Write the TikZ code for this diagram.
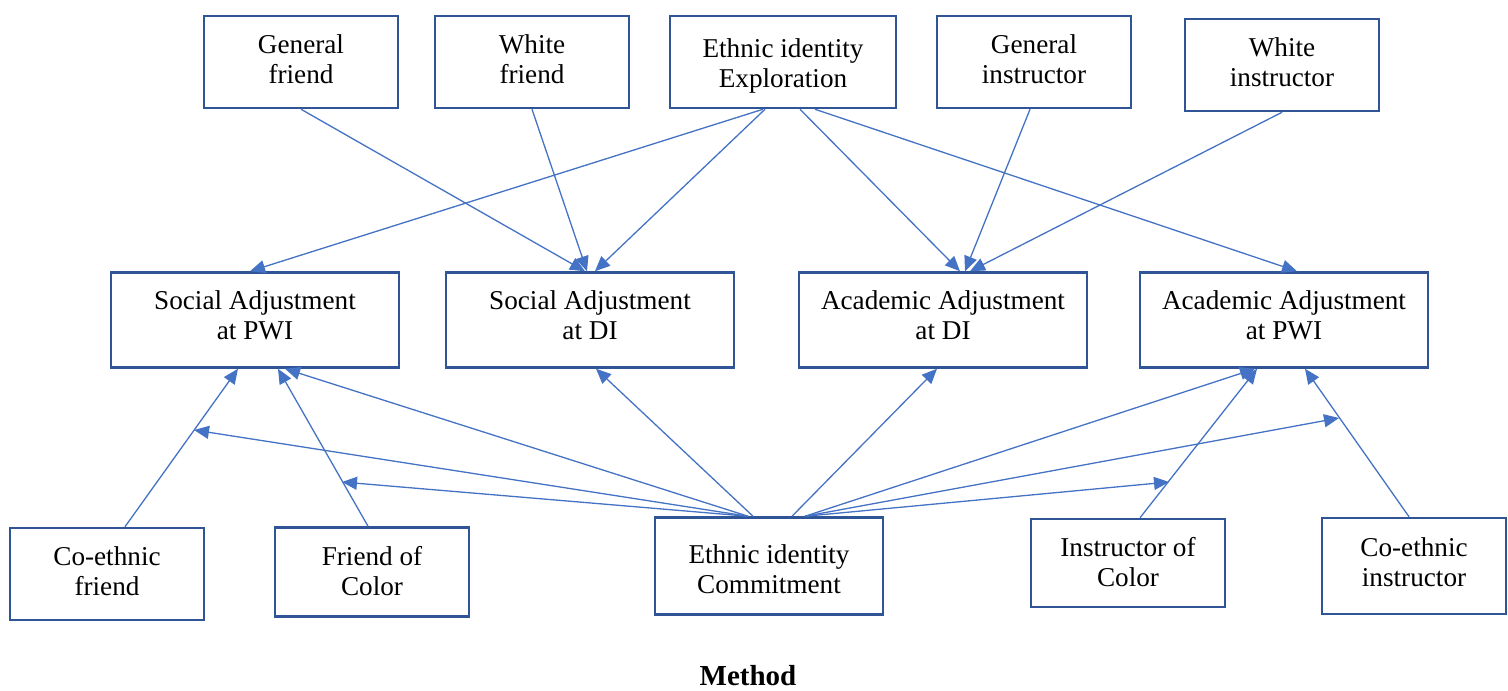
\documentclass[tikz,border=0pt]{standalone}
\usepackage{fontspec}
\setmainfont{Liberation Serif}
\usetikzlibrary{arrows.meta,calc}
\definecolor{boxline}{HTML}{2F5597}
\definecolor{arrline}{HTML}{4472C4}
% frame and caption of one variable box; #1 name, #2 frame options,
% #3 position, #4 vertical shift of the caption, #5 caption
\newcommand{\varbox}[5]{%
  \node[box,#2] (#1) at #3 {};
  \node[txt] (#1-t) at ([yshift=#4]#1.center) {#5};}
\begin{document}
\begin{tikzpicture}[x=0.5pt,y=-0.5pt,
  box/.style={draw=boxline,line width=1.25pt,fill=white,inner sep=0pt,
    minimum width=97pt,minimum height=46pt},
  wbox/.style={minimum width=144pt,minimum height=47.5pt},
  txt/.style={inner sep=0pt,align=center,font=\fontsize{13.6}{15}\selectfont},
  arr/.style={draw=arrline,line width=0.65pt,-{Triangle[length=7.5pt,width=6.5pt]}}]
\useasboundingbox (0,0) rectangle (1508,690);
% top row
\varbox{gf}{}{(301,62)}{1.5pt}{General\\friend}
\varbox{wf}{}{(532,62)}{1.5pt}{White\\friend}
\varbox{exp}{minimum width=113pt}{(783,62)}{-2pt}{Ethnic identity\\Exploration}
\varbox{gi}{}{(1034,62)}{1.5pt}{General\\instructor}
\varbox{wi}{}{(1282,65)}{1.5pt}{White\\instructor}
% middle row
\varbox{spwi}{wbox}{(255,320)}{2.5pt}{Social Adjustment\\at PWI}
\varbox{sdi}{wbox}{(590,320)}{2.5pt}{Social Adjustment\\at DI}
\varbox{adi}{wbox}{(943,320)}{2.5pt}{Academic Adjustment\\at DI}
\varbox{apwi}{wbox}{(1284,320)}{2.5pt}{Academic Adjustment\\at PWI}
% bottom row
\varbox{cef}{}{(107,574)}{1.5pt}{Co-ethnic\\friend}
\varbox{foc}{minimum height=44.5pt}{(372,572)}{0.5pt}{Friend of\\Color}
\varbox{com}{minimum width=114pt,minimum height=48.5pt}{(769,566)}{-1.5pt}{Ethnic identity\\Commitment}
\varbox{ioc}{minimum height=44pt}{(1128,563)}{0.5pt}{Instructor of\\Color}
\varbox{cei}{minimum width=92pt,minimum height=48pt}{(1414,566)}{2pt}{Co-ethnic\\instructor}
\node[font=\fontsize{14.5}{16}\selectfont\bfseries] (title) at (748,676) {Method};
% points on the paths that the commitment arrows point at
\coordinate (m1) at (194,430);
\coordinate (m2) at (342,482);
\coordinate (m3) at (1169,482);
\coordinate (m4) at (1339,418);
% arrows from the top row
\draw[arr] (gf.south) -- ([xshift=-2.5pt]sdi.north);
\draw[arr] (wf.south) -- ([xshift=-1.5pt]sdi.north);
\draw[arr] ([xshift=-10pt]exp.south) -- ([xshift=-2.5pt]spwi.north);
\draw[arr] ([xshift=-9pt]exp.south) -- ([xshift=2.5pt]sdi.north);
\draw[arr] ([xshift=8.5pt]exp.south) -- ([xshift=8.5pt]adi.north);
\draw[arr] ([xshift=16pt]exp.south) -- ([xshift=6.5pt]apwi.north);
\draw[arr] ([xshift=-2pt]gi.south) -- ([xshift=11pt]adi.north);
\draw[arr] (wi.south) -- ([xshift=13.5pt]adi.north);
% arrows from the bottom row
\draw[arr] ([xshift=9pt]cef.north) -- ([xshift=-8.5pt]spwi.south);
\draw[arr] ([xshift=-2pt]foc.north) -- ([xshift=11.5pt]spwi.south);
\draw[arr] ([xshift=-10.5pt]com.north) -- ([xshift=15pt]spwi.south);
\draw[arr] ([xshift=-10.5pt]com.north) -- (m1);
\draw[arr] ([xshift=-10.5pt]com.north) -- (m2);
\draw[arr] ([xshift=-8pt]com.north) -- ([xshift=3pt]sdi.south);
\draw[arr] ([xshift=11.5pt]com.north) -- ([xshift=-3pt]adi.south);
\draw[arr] ([xshift=18pt]com.north) -- ([xshift=-14.5pt]apwi.south);
\draw[arr] ([xshift=18pt]com.north) -- (m3);
\draw[arr] ([xshift=18pt]com.north) -- (m4);
\draw[arr] ([xshift=6pt]ioc.north) -- ([xshift=-13.5pt]apwi.south);
\draw[arr] ([xshift=-2.5pt]cei.north) -- ([xshift=10.5pt]apwi.south);
\end{tikzpicture}
\end{document}
